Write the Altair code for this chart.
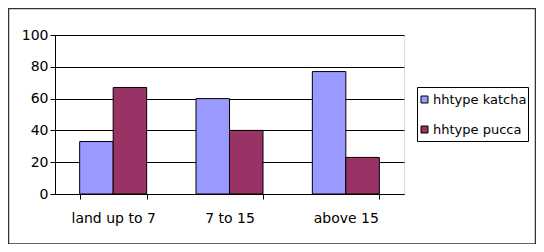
import altair as alt
import pandas as pd

categories = ["land up to 7", "7 to 15", "above 15"]
series = ["hhtype katcha", "hhtype pucca"]
katcha = [33, 60, 77]
pucca = [67, 40, 23]
y_ticks = [0, 20, 40, 60, 80, 100]
colors = ["#9999FF", "#993366"]

rows = []
for c, k, p in zip(categories, katcha, pucca):
    rows.append({"cat": c, "series": series[0], "value": k})
    rows.append({"cat": c, "series": series[1], "value": p})
df = pd.DataFrame(rows)

FONT = "DejaVu Sans"
one = pd.DataFrame({"a": [0]})

border = alt.Chart(one).mark_rect(fillOpacity=0, stroke="#333333", strokeWidth=1.5).encode(
    x=alt.value(-46.5), x2=alt.value(480.5), y=alt.value(-26.5), y2=alt.value(209)
)
legbox = alt.Chart(one).mark_rect(fillOpacity=0, stroke="black", strokeWidth=1).encode(
    x=alt.value(362.5), x2=alt.value(473.5), y=alt.value(52.5), y2=alt.value(106.5)
)

bars = alt.Chart(df).mark_bar(stroke="black", strokeWidth=1).encode(
    x=alt.X("cat:N", sort=categories,
            scale=alt.Scale(paddingInner=0.424, paddingOuter=0.212),
            axis=alt.Axis(title=None, labelAngle=0, tickBand="extent", domainColor="black",
                          tickColor="black", tickSize=5, labelPadding=12, labelFont=FONT,
                          labelFontSize=14, labelColor="black", grid=False)),
    xOffset=alt.XOffset("series:N", sort=series, scale=alt.Scale(paddingInner=0, paddingOuter=0)),
    y=alt.Y("value:Q", scale=alt.Scale(domain=[0, 100]),
            axis=alt.Axis(values=y_ticks, title=None, grid=True, gridColor="black",
                          domainColor="black", tickColor="black", tickSize=5, labelPadding=2,
                          labelFont=FONT, labelFontSize=14, labelColor="black")),
    color=alt.Color("series:N", sort=series, scale=alt.Scale(domain=series, range=colors),
                    legend=alt.Legend(orient="none", legendX=363, legendY=58, title=None,
                                      symbolType="square", symbolSize=49,
                                      symbolStrokeColor="black", symbolStrokeWidth=1,
                                      symbolOpacity=1, labelFont=FONT, labelFontSize=13,
                                      labelColor="black", rowPadding=16, padding=0,
                                      labelOffset=2, labelLimit=300)),
)

chart = alt.layer(border, legbox, bars).properties(
    width=349, height=159,
    autosize=alt.AutoSizeParams(type="none"),
    padding={"left": 47, "top": 27, "right": 132, "bottom": 50},
).configure_view(fill="#C0C0C0", stroke="#808080").configure(background="white")

chart.save("out.html", embed_options={"renderer": "svg", "actions": False})
